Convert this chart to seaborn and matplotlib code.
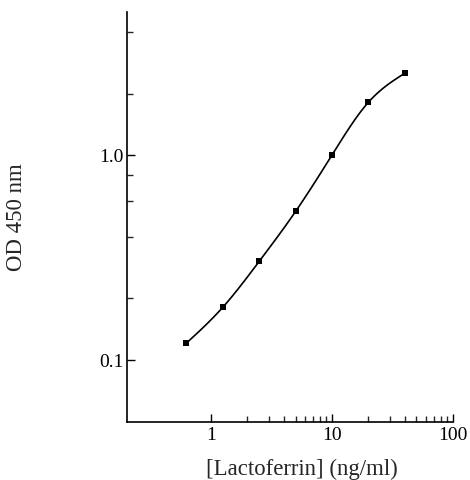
import numpy as np
import pandas as pd
import seaborn as sns
from matplotlib import pyplot as plt
from matplotlib.ticker import FixedLocator, NullFormatter

# standard curve readings
conc = [0.625, 1.25, 2.5, 5, 10, 20, 40]
od = [0.121, 0.181, 0.303, 0.531, 1.0, 1.81, 2.51]

x_major = [1, 10, 100]
x_major_labels = ["1", "10", "100"]
x_minor = [2, 3, 4, 5, 6, 7, 8, 9, 20, 30, 40, 50, 60, 70, 80, 90]
y_major = [0.1, 1.0]
y_major_labels = ["0.1", "1.0"]
y_minor = [0.2, 0.4, 0.6, 0.8, 2, 4]

df = pd.DataFrame({"conc": conc, "od": od})


def natural_spline(x, y, n=300):
    # natural cubic spline in log-log space, smooth curve through the points
    x = np.asarray(x, float)
    y = np.asarray(y, float)
    k = len(x)
    h = np.diff(x)
    A = np.zeros((k, k))
    b = np.zeros(k)
    A[0, 0] = A[-1, -1] = 1
    for i in range(1, k - 1):
        A[i, i - 1] = h[i - 1]
        A[i, i] = 2 * (h[i - 1] + h[i])
        A[i, i + 1] = h[i]
        b[i] = 3 * ((y[i + 1] - y[i]) / h[i] - (y[i] - y[i - 1]) / h[i - 1])
    c = np.linalg.solve(A, b)
    xs = np.linspace(x[0], x[-1], n)
    idx = np.clip(np.searchsorted(x, xs) - 1, 0, k - 2)
    dx = xs - x[idx]
    bb = (y[idx + 1] - y[idx]) / h[idx] - h[idx] * (2 * c[idx] + c[idx + 1]) / 3
    dd = (c[idx + 1] - c[idx]) / (3 * h[idx])
    ys = y[idx] + bb * dx + c[idx] * dx ** 2 + dd * dx ** 3
    return xs, ys


lx, ly = natural_spline(np.log10(conc), np.log10(od))
curve = pd.DataFrame({"conc": 10 ** lx, "od": 10 ** ly})

sns.set_style("ticks")
plt.rcParams['font.family'] = ['Liberation Serif', 'DejaVu Serif']

fig = plt.figure(figsize=(4.7, 4.8), dpi=100)
ax = fig.add_axes([0.2696, 0.1215, 0.6936, 0.8535])

sns.lineplot(data=curve, x="conc", y="od", ax=ax, color="black", linewidth=1.2, sort=False)
sns.scatterplot(data=df, x="conc", y="od", ax=ax, color="black", marker="s", s=22,
                edgecolor="black", linewidth=0, zorder=3)

ax.set_xscale("log")
ax.set_yscale("log")
ax.set_xlim(0.2, 100)
ax.set_ylim(0.05, 5)

ax.xaxis.set_major_locator(FixedLocator(x_major))
ax.set_xticklabels(x_major_labels)
ax.xaxis.set_minor_locator(FixedLocator(x_minor))
ax.xaxis.set_minor_formatter(NullFormatter())
ax.yaxis.set_major_locator(FixedLocator(y_major))
ax.set_yticklabels(y_major_labels)
ax.yaxis.set_minor_locator(FixedLocator(y_minor))
ax.yaxis.set_minor_formatter(NullFormatter())

ax.tick_params(which="major", direction="in", length=6, width=1, labelsize=14, colors="black")
ax.tick_params(axis="y", which="major", pad=2)
ax.tick_params(which="minor", direction="in", length=4, width=1)

sns.despine(ax=ax)
for s in ["left", "bottom"]:
    ax.spines[s].set_linewidth(1.2)
    ax.spines[s].set_color("black")

ax.set_xlabel("[Lactoferrin] (ng/ml)", fontsize=16.4, labelpad=11)
ax.xaxis.label.set_x(0.537)
ax.set_ylabel("OD 450 nm", fontsize=16.4, labelpad=52)

fig.savefig("out.png", dpi=100)
